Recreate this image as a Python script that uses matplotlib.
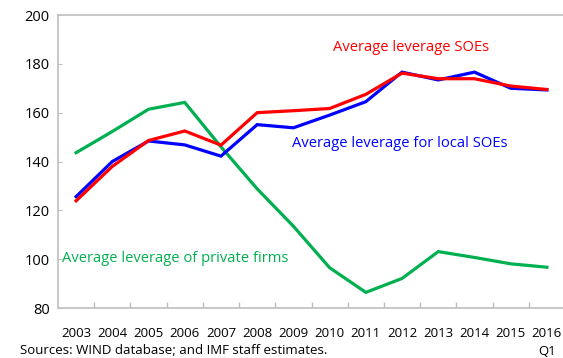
import matplotlib
matplotlib.use("Agg")
import matplotlib.pyplot as plt

years = ["2003", "2004", "2005", "2006", "2007", "2008", "2009", "2010",
         "2011", "2012", "2013", "2014", "2015", "2016\nQ1"]
soe_avg = [123.9, 138.0, 148.6, 152.5, 146.7, 160.0, 160.8, 161.7,
           167.5, 176.2, 173.9, 173.9, 170.9, 169.5]
soe_local = [125.6, 140.0, 148.4, 146.8, 142.2, 155.1, 153.8, 159.0,
             164.5, 176.6, 173.4, 176.6, 170.0, 169.3]
private = [143.6, 152.3, 161.4, 164.2, 146.0, 128.8, 113.5, 96.5,
           86.4, 92.1, 103.1, 100.7, 98.1, 96.7]

plt.rcParams['font.family'] = ['Open Sans', 'DejaVu Sans']

fig = plt.figure(figsize=(5.63, 3.58), dpi=100)
ax = fig.add_axes([58/563, 1-308/358, (565-58)/563, (308-15)/358])

x = list(range(len(years)))
ax.plot(x, private, color='#00b050', lw=2.3, solid_joinstyle='miter')
ax.plot(x, soe_local, color='#0000ff', lw=2.3, solid_joinstyle='miter')
ax.plot(x, soe_avg, color='#ff0000', lw=2.3, solid_joinstyle='miter')

ax.set_xlim(-0.5, len(years) - 0.5)
ax.set_ylim(80, 200)
ax.set_yticks(range(80, 201, 20))
ax.set_xticks(x)
ax.set_xticklabels(years)
ax.set_xticks([i + 0.5 for i in range(len(years) - 1)], minor=True)

for s in ['left', 'top', 'bottom']:
    ax.spines[s].set_color('#bfbfbf')
    ax.spines[s].set_linewidth(1.2)
ax.spines['right'].set_visible(False)

ax.tick_params(axis='x', which='major', length=0, labelsize=9.5, pad=14, colors='#000000')
ax.tick_params(axis='x', which='minor', length=4, direction='in', color='#bfbfbf', width=1)
ax.tick_params(axis='y', which='major', length=3, direction='in', color='#bfbfbf',
               labelsize=10.5, pad=6)
for lab in ax.get_xticklabels():
    lab.set_linespacing(1.45)
    lab.set_verticalalignment('top')

ax.text(9.25, 186.5, "Average leverage SOEs", color='#ff0000', fontsize=10.6, ha='center', va='center')
ax.text(8.95, 147.2, "Average leverage for local SOEs", color='#0000ff', fontsize=10.6, ha='center', va='center')
ax.text(-0.38, 100.2, "Average leverage of private firms", color='#00b050', fontsize=10.6, ha='left', va='center')

fig.text(20/563, 1.5/358, "Sources: WIND database; and IMF staff estimates.", fontsize=9.5,
         ha='left', va='bottom')

fig.savefig("out.png", dpi=100)
